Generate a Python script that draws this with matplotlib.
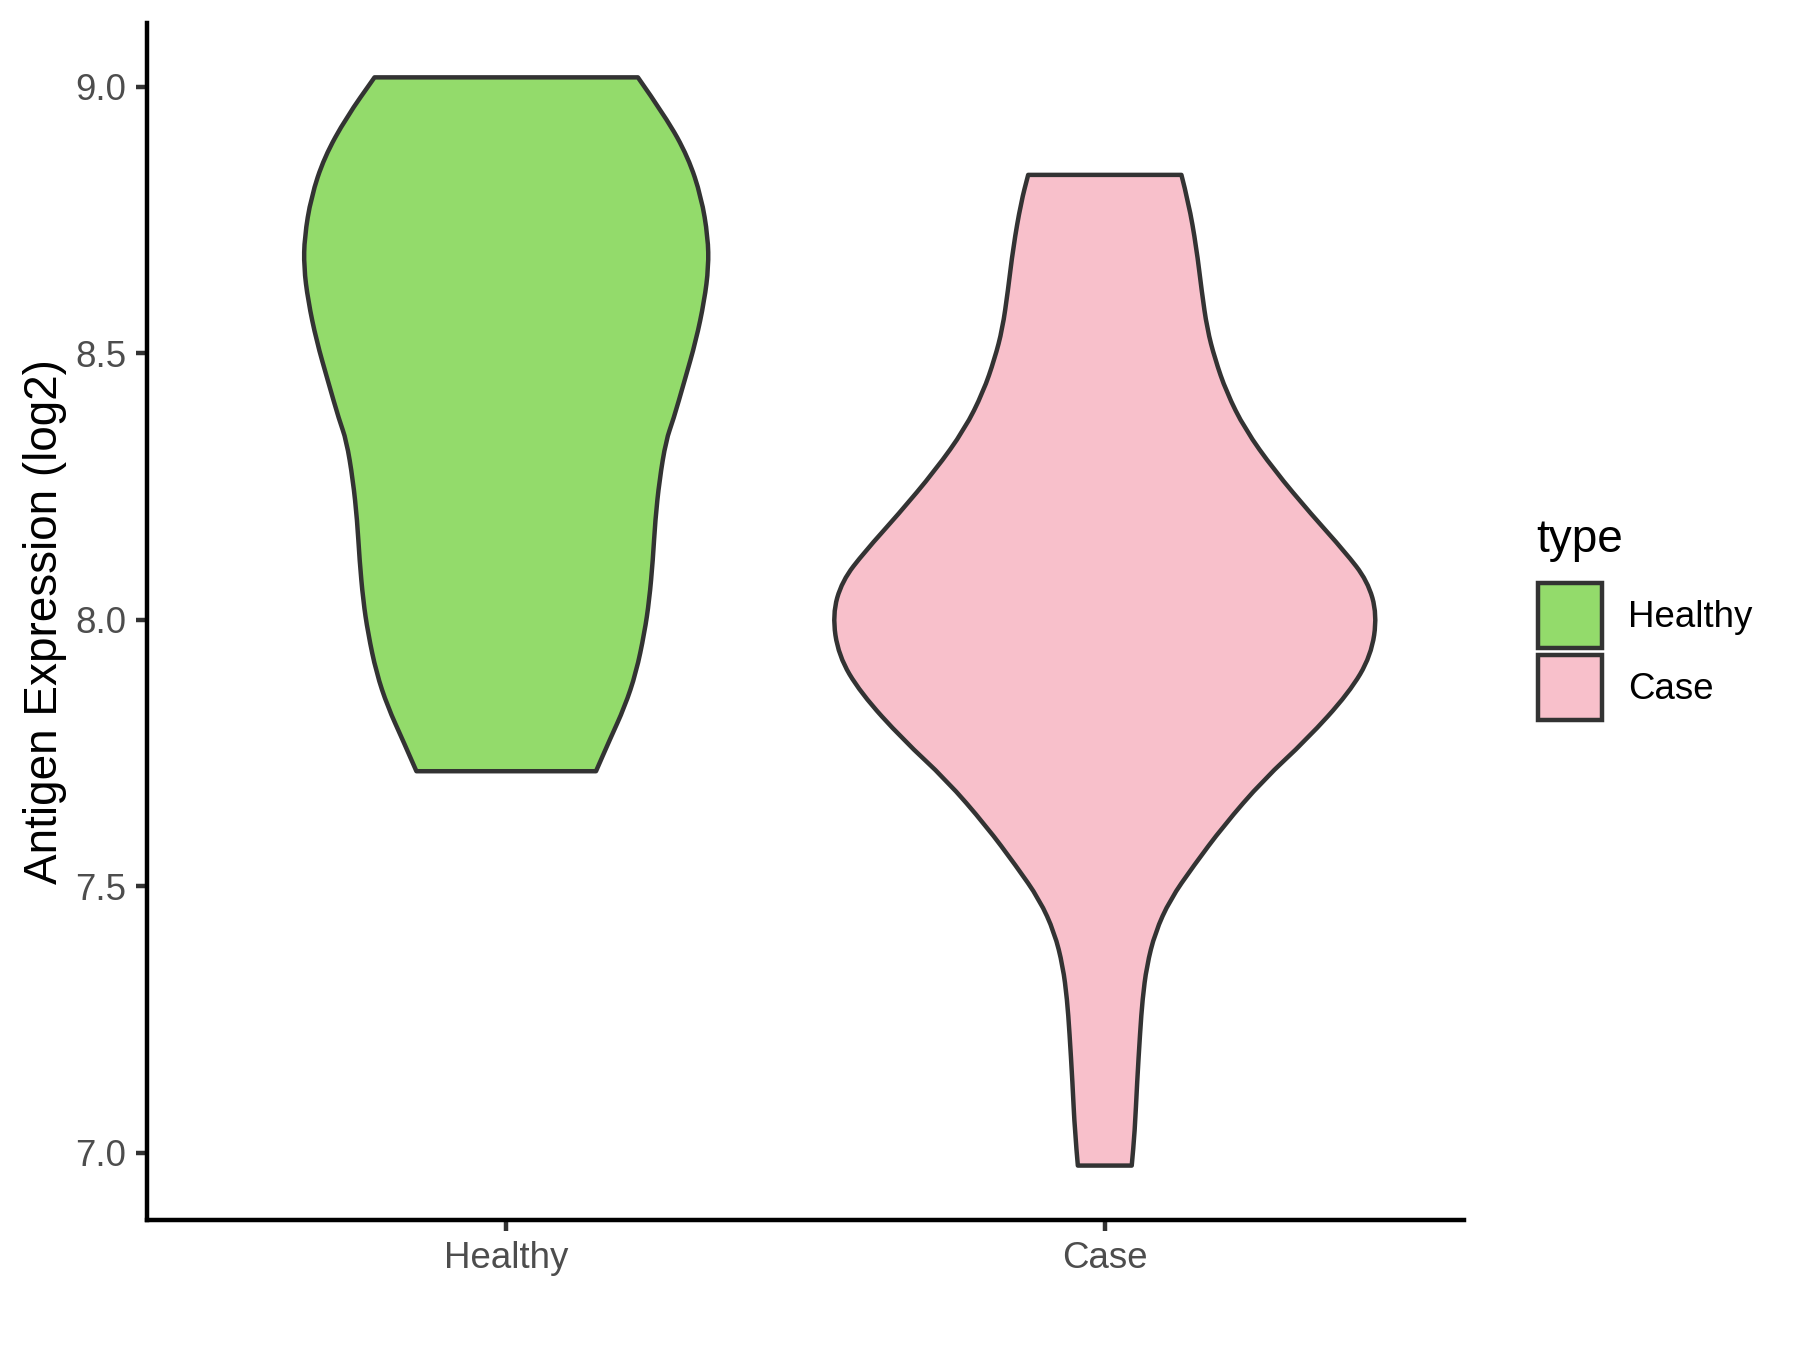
import numpy as np
import matplotlib
matplotlib.use("Agg")
import matplotlib.pyplot as plt
from matplotlib.patches import Patch, PathPatch
from matplotlib.path import Path

# data: violin outline (value, half width in x units)
groups=["Healthy","Case"]
colors=["#93DB6B","#F8C0CB"]

healthy_y=[9.018,8.943,8.868,8.793,8.718,8.662,8.599,8.524,8.449,8.375,8.337,8.262,8.187,8.112,8.037,7.976,7.901,7.837,7.775,7.716]
healthy_hw=[0.220,0.267,0.304,0.326,0.337,0.338,0.331,0.317,0.298,0.279,0.267,0.256,0.249,0.245,0.239,0.231,0.217,0.198,0.173,0.150]

case_y=[8.835,8.783,8.699,8.616,8.546,8.490,8.428,8.358,8.281,8.198,8.128,8.073,8.010,7.933,7.863,7.775,7.700,7.613,7.538,7.475,7.413,7.350,7.288,7.226,7.132,7.039,6.976]
case_hw=[0.128,0.140,0.153,0.162,0.171,0.184,0.203,0.234,0.283,0.345,0.401,0.439,0.455,0.445,0.408,0.337,0.265,0.198,0.148,0.109,0.084,0.070,0.063,0.059,0.054,0.050,0.045]

ys=[healthy_y,case_y]
hws=[healthy_hw,case_hw]

# plotstyle
plt.rcParams['font.family']=['Liberation Sans','DejaVu Sans']
edge="#333333"
lw=1.07

# smooth one side of the outline (quadratic bezier through midpoints)
def side(pts,first):
    verts=[pts[0]];codes=[Path.MOVETO if first else Path.LINETO]
    for i0 in range(1,len(pts)-1):
        mid=((pts[i0][0]+pts[i0+1][0])/2,(pts[i0][1]+pts[i0+1][1])/2)
        verts+=[pts[i0],mid];codes+=[Path.CURVE3,Path.CURVE3]
    verts.append(pts[-1]);codes.append(Path.LINETO)
    return verts,codes

fig=plt.figure(figsize=(6,4.5),dpi=300)
ax=fig.add_axes([0.0817,0.0963,0.8133-0.0817,0.983-0.0963])

for i0 in range(len(groups)):
    pos=i0+1
    y=list(ys[i0]);hw=list(hws[i0])
    right=[(pos+w,v) for v,w in zip(y,hw)]
    left=[(pos-w,v) for v,w in zip(y,hw)][::-1]
    v0,c0=side(right,True)
    v1,c1=side(left,False)
    verts=v0+v1+[right[0]];codes=c0+c1+[Path.CLOSEPOLY]
    ax.add_patch(PathPatch(Path(verts,codes),facecolor=colors[i0],edgecolor=edge,lw=lw,joinstyle='round',zorder=2))

# axes
allv=np.concatenate([np.array(v) for v in ys])
lo,hi=allv.min(),allv.max();pad=0.05*(hi-lo)
ax.set_ylim(lo-pad,hi+pad)
ax.set_xlim(0.4,2.6)
ax.set_xticks([1,2]);ax.set_xticklabels(groups)
yt=[7.0,7.5,8.0,8.5,9.0]
ax.set_yticks(yt);ax.set_yticklabels(["%.1f"%v for v in yt])
ax.tick_params(axis='both',colors=edge,width=lw,length=2.75,labelsize=8.8,labelcolor="#4D4D4D",pad=2.2)
for s in ['top','right']:
    ax.spines[s].set_visible(False)
for s in ['left','bottom']:
    ax.spines[s].set_linewidth(lw);ax.spines[s].set_color('black')
ax.set_ylabel("Antigen Expression (log2)",fontsize=11,color='black',labelpad=2)

# legend
fig.text(1536/1800,1-540/1350,"type",fontsize=11,ha='left',va='center')
handles=[Patch(facecolor=colors[i0],edgecolor=edge,lw=lw) for i0 in range(len(groups))]
leg=fig.legend(handles,groups,loc='upper left',bbox_to_anchor=(1538/1800,1-583/1350),frameon=False,
               fontsize=8.8,handlelength=1.75,handleheight=2.35,labelspacing=0.19,handletextpad=0.7,
               borderaxespad=0,borderpad=0)

fig.savefig("out.png",dpi=300)
